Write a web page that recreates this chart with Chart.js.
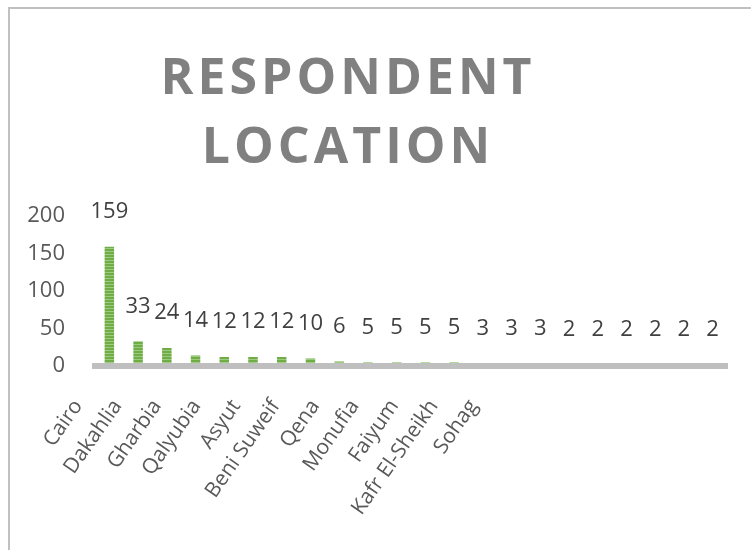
<!DOCTYPE html>
<html>
<head>
<meta charset="utf-8">
<title>Respondent Location</title>
<script src="https://cdn.jsdelivr.net/npm/chart.js@4/dist/chart.umd.min.js"></script>
<style>
  html, body { margin: 0; padding: 0; background: #fff; overflow: hidden; }
  body { width: 751px; height: 550px; position: relative; }
  .frame {
    position: absolute; left: 8px; top: 7px; right: -10px; bottom: -10px;
    border-left: 2px solid #c0c0c0; border-top: 2px solid #c0c0c0;
  }
  #LocationChart { position: absolute; left: -31px; top: 0; }
</style>
</head>
<body>
<div class="frame"></div>
<canvas id="LocationChart" width="782" height="550"></canvas>
<script>
// one bar per location, only every other name is printed on the axis
const categories = [
  "Cairo", "", "Dakahlia", "", "Gharbia", "", "Qalyubia", "", "Asyut", "",
  "Beni Suweif", "", "Qena", "", "Monufia", "", "Faiyum", "", "Kafr El-Sheikh", "",
  "Sohag", ""
];
const respondents = [159, 33, 24, 14, 12, 12, 12, 10, 6, 5, 5, 5, 5, 3, 3, 3, 2, 2, 2, 2, 2, 2];
const axisNames = categories.filter((name) => name !== "");
const yTicks = [0, 50, 100, 150, 200];

// striped green fill like the original bars
function stripes() {
  const tile = document.createElement("canvas");
  tile.width = 4;
  tile.height = 3;
  const t = tile.getContext("2d");
  t.fillStyle = "#70ad47";
  t.fillRect(0, 0, 4, 3);
  t.fillStyle = "#9ccb7f";
  t.fillRect(0, 2, 4, 1);
  return t.createPattern(tile, "repeat");
}

const valueLabels = {
  id: "valueLabels",
  afterDatasetsDraw(chart) {
    const ctx = chart.ctx;
    const meta = chart.getDatasetMeta(0);
    ctx.save();
    ctx.font = '22px "Open Sans"';
    ctx.fillStyle = "#404040";
    ctx.textAlign = "center";
    ctx.textBaseline = "middle";
    meta.data.forEach((bar, i) => {
      ctx.fillText(String(respondents[i]), bar.x, bar.y - 35);
    });
    ctx.restore();
  },
};

// the title is letter-spaced in the original
const spacedTitle = {
  id: "spacedTitle",
  afterLayout(chart) {
    const block = chart.titleBlock;
    if (!block || block._spaced) return;
    const draw = block.draw.bind(block);
    block.draw = function (area) {
      chart.ctx.save();
      chart.ctx.letterSpacing = "4px";
      draw(area);
      chart.ctx.restore();
    };
    block._spaced = true;
  },
};

const ctx = document.getElementById("LocationChart").getContext("2d");
new Chart(ctx, {
  type: "bar",
  data: {
    labels: categories,
    datasets: [
      {
        label: "Respondents",
        data: respondents,
        backgroundColor: stripes(),
        borderWidth: 0,
        barPercentage: 0.33,
        categoryPercentage: 1,
      },
    ],
  },
  options: {
    responsive: false,
    animation: false,
    layout: { padding: { left: 0, right: 24, top: 0, bottom: 0 } },
    plugins: {
      legend: { display: false },
      tooltip: { enabled: false },
      title: {
        display: true,
        text: ["RESPONDENT", "LOCATION"],
        color: "#808080",
        font: { family: "Open Sans", size: 50, weight: "bold", lineHeight: 1.38 },
        padding: { top: 45, bottom: 33 },
      },
    },
    scales: {
      x: {
        type: "category",
        offset: true,
        grid: { display: false },
        border: { display: true, color: "#bfbfbf", width: 6, z: 1 },
        ticks: { display: false },
        afterFit(scale) { scale.height = 0; },
      },
      x2: {
        type: "linear",
        position: "bottom",
        min: 1.156,
        max: 15.69,
        grid: { display: false, drawTicks: false },
        border: { display: false },
        afterBuildTicks(scale) {
          scale.ticks = axisNames.map((_, i) => ({ value: i }));
        },
        afterFit(scale) { scale.height = 184; },
        ticks: {
          autoSkip: false,
          minRotation: 55,
          maxRotation: 55,
          padding: 29,
          color: "#595959",
          font: { family: "Open Sans", size: 21 },
          callback: (value) => axisNames[value],
        },
      },
      y: {
        min: 0,
        max: 200,
        grid: { display: false },
        border: { display: false },
        afterBuildTicks(scale) {
          scale.ticks = yTicks.map((v) => ({ value: v }));
        },
        afterFit(scale) { scale.width = 126; },
        ticks: {
          padding: 22,
          color: "#595959",
          font: { family: "Open Sans", size: 22 },
        },
      },
    },
  },
  plugins: [valueLabels, spacedTitle],
});
</script>
</body>
</html>
